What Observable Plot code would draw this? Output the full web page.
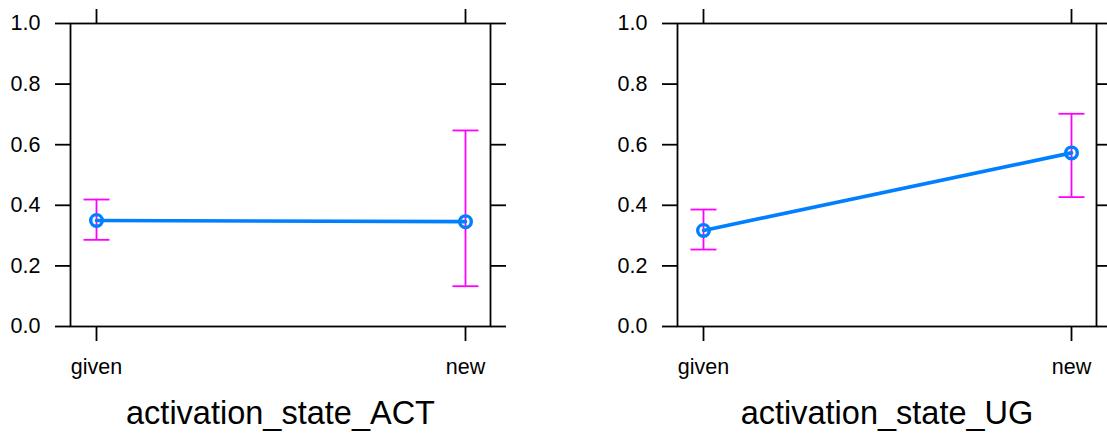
<!DOCTYPE html>
<html>
<head>
<meta charset="utf-8">
<script src="https://cdn.jsdelivr.net/npm/d3@7"></script>
<script src="https://cdn.jsdelivr.net/npm/@observablehq/plot@0.6"></script>
<style>
  html, body { margin: 0; padding: 0; background: #fff; }
  #wrap { display: flex; width: 1107px; height: 437px; font-family: "Liberation Sans", Arial, sans-serif; }
  #wrap svg { display: block; }
</style>
</head>
<body>
<div id="wrap"></div>
<script>
// Panel titles (factor names)
const panels = ["activation_state_ACT", "activation_state_UG"];
// Factor levels (x categories)
const levels = ["given", "new"];
// Fitted values per panel
const fitACT = [0.350, 0.346];
const fitUG = [0.317, 0.573];
// Lower / upper confidence limits per panel
const lowerACT = [0.286, 0.133];
const upperACT = [0.419, 0.647];
const lowerUG = [0.254, 0.427];
const upperUG = [0.386, 0.702];
// y tick values
const yTicks = [0, 0.2, 0.4, 0.6, 0.8, 1.0];

const fits = [fitACT, fitUG];
const lowers = [lowerACT, lowerUG];
const uppers = [upperACT, upperUG];

const geom = [
  {width: 553, marginLeft: 70, marginRight: 63},
  {width: 554, marginLeft: 124, marginRight: 11}
];

// horizontal cap symbol for error bars
const capSymbol = {
  draw(context) {
    context.moveTo(-13, 0);
    context.lineTo(13, 0);
  }
};

const wrap = document.getElementById("wrap");

panels.forEach((title, p) => {
  const data = levels.map((lv, i) => ({level: lv, fit: fits[p][i], lower: lowers[p][i], upper: uppers[p][i]}));
  const g = geom[p];
  const chart = Plot.plot({
    width: g.width,
    height: 437,
    marginLeft: g.marginLeft,
    marginRight: g.marginRight,
    marginTop: 23,
    marginBottom: 111,
    style: {fontFamily: "'Liberation Sans', Arial, sans-serif", background: "#fff", color: "#000"},
    x: {type: "point", domain: levels, padding: 0.068, label: null},
    y: {domain: [0, 1], label: null},
    marks: [
      Plot.axisY({ticks: yTicks, tickSize: 15, tickPadding: 15, tickFormat: d3.format(".1f"), fontSize: 21.5, strokeWidth: 1.8, label: null}),
      Plot.axisY({anchor: "right", ticks: yTicks, tickSize: 15, tickFormat: () => "", strokeWidth: 1.8, label: null}),
      Plot.axisX({anchor: "bottom", tickSize: 15, tickPadding: 17, fontSize: 21.5, strokeWidth: 1.8, label: null}),
      Plot.axisX({anchor: "top", tickSize: 15, tickFormat: () => "", strokeWidth: 1.8, label: null}),
      Plot.ruleX(data, {x: "level", y1: "lower", y2: "upper", stroke: "#ff00ff", strokeWidth: 1.8}),
      Plot.dot(data, {x: "level", y: "lower", symbol: capSymbol, stroke: "#ff00ff", strokeWidth: 1.8, fill: "none"}),
      Plot.dot(data, {x: "level", y: "upper", symbol: capSymbol, stroke: "#ff00ff", strokeWidth: 1.8, fill: "none"}),
      Plot.line(data, {x: "level", y: "fit", stroke: "#0080ff", strokeWidth: 3.6}),
      Plot.dot(data, {x: "level", y: "fit", r: 5.8, stroke: "#0080ff", strokeWidth: 3.4, fill: "none"}),
      Plot.frame({stroke: "#000", strokeWidth: 1.8}),
      Plot.text([title], {frameAnchor: "bottom", dy: 97, fontSize: 32.5, fill: "#000"})
    ]
  });
  wrap.appendChild(chart);
});
</script>
</body>
</html>
